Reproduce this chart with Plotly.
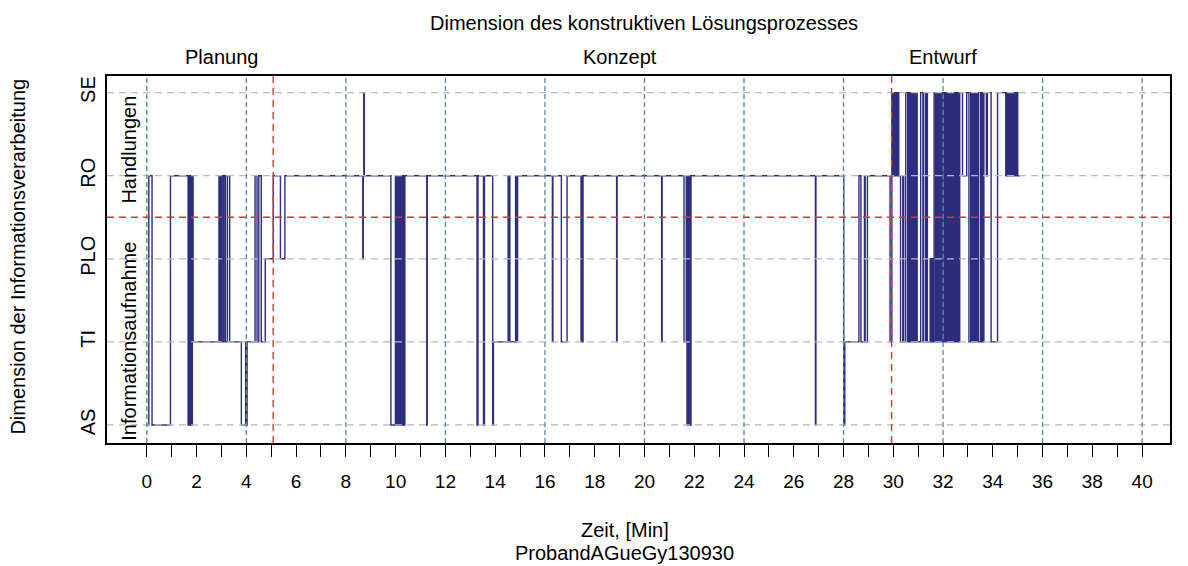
import plotly.graph_objects as go

# ---------------- data ----------------
levels = ["AS", "TI", "PLO", "RO", "SE"]
level_values = [1, 2, 3, 4, 5]

change_times = [
    0.00, 0.08, 0.21, 0.95, 1.66, 1.70, 1.73, 1.77, 1.80, 1.83, 1.86,
    2.90, 2.95, 3.00, 3.06, 3.10, 3.16, 3.24, 3.33, 3.80, 3.97, 4.00, 4.03,
    4.35, 4.43, 4.50, 4.60, 4.76, 5.08, 5.37, 5.55,
    8.68, 8.70, 8.72, 8.74,
    9.81, 9.99, 10.02, 10.05, 10.08, 10.11, 10.14, 10.17, 10.20, 10.23, 10.26, 10.29, 10.32, 10.37,
    11.25, 11.27,
    13.27, 13.31, 13.53, 13.57, 13.90, 13.93,
    14.52, 14.55, 14.57, 14.59, 14.82, 14.86, 14.90,
    16.30, 16.32, 16.66, 16.89, 17.45, 17.48, 17.50, 17.53,
    18.88, 18.90, 20.69, 20.71,
    21.59, 21.68, 21.71, 21.74, 21.77, 21.80, 21.83, 21.87,
    26.87, 26.89,
    28.01, 28.05, 28.62, 28.70, 28.84, 28.87, 28.96,
    29.87, 29.94, 29.97, 30.00, 30.03, 30.06, 30.09, 30.12, 30.15, 30.18, 30.22,
    30.29, 30.38, 30.42, 30.50, 30.58, 30.62, 30.65, 30.68, 30.71, 30.74, 30.77,
    30.80, 30.83, 30.86, 30.89, 30.92, 30.96,
    31.10, 31.19, 31.22, 31.30, 31.33, 31.37, 31.48, 31.52, 31.56, 31.60,
    31.64, 31.70, 31.75, 31.80, 31.84, 31.88, 31.92, 31.97,
    32.03, 32.08, 32.11, 32.14, 32.18, 32.21, 32.25, 32.28, 32.32, 32.35, 32.39,
    32.42, 32.46, 32.49, 32.53, 32.56, 32.60, 32.63, 32.67, 32.78, 32.95,
    33.04, 33.11, 33.14, 33.18, 33.21, 33.25, 33.28, 33.32, 33.35, 33.39, 33.42,
    33.50, 33.53, 33.57, 33.60, 33.64, 33.74, 33.78, 33.93, 34.19,
    34.52, 34.55, 34.59, 34.62, 34.66, 34.69, 34.73, 34.76, 34.80, 34.83, 34.87,
    34.90, 34.94, 34.97, 35.00, 35.10,
]

change_states = [
    "AS", "RO", "AS", "RO", "AS", "RO", "AS", "RO", "AS", "RO", "TI",
    "RO", "TI", "RO", "TI", "RO", "TI", "RO", "TI", "AS", "TI", "AS", "TI",
    "RO", "TI", "RO", "TI", "PLO", "RO", "PLO", "RO",
    "PLO", "RO", "SE", "RO",
    "AS", "RO", "AS", "RO", "AS", "RO", "AS", "RO", "AS", "RO", "AS", "RO", "AS", "RO",
    "AS", "RO",
    "AS", "RO", "AS", "RO", "AS", "TI",
    "RO", "TI", "RO", "TI", "RO", "TI", "RO",
    "TI", "RO", "TI", "RO", "TI", "RO", "TI", "RO",
    "TI", "RO", "TI", "RO",
    "TI", "RO", "AS", "RO", "AS", "RO", "AS", "RO",
    "AS", "RO",
    "AS", "TI", "RO", "TI", "RO", "TI", "RO",
    "TI", "SE", "RO", "SE", "RO", "SE", "RO", "SE", "RO", "SE", "RO",
    "TI", "RO", "TI", "SE", "TI", "SE", "TI", "SE", "TI", "SE", "TI",
    "SE", "TI", "SE", "TI", "SE", "TI",
    "SE", "TI", "SE", "TI", "SE", "TI", "PLO", "TI", "PLO", "TI",
    "SE", "TI", "SE", "TI", "SE", "TI", "SE", "TI",
    "SE", "TI", "SE", "TI", "SE", "TI", "SE", "TI", "SE", "TI", "SE",
    "TI", "SE", "TI", "SE", "TI", "SE", "TI", "SE", "RO", "SE",
    "TI", "SE", "TI", "SE", "TI", "SE", "TI", "SE", "TI", "SE", "TI",
    "SE", "TI", "SE", "TI", "SE", "RO", "SE", "TI", "SE",
    "RO", "SE", "RO", "SE", "RO", "SE", "RO", "SE", "RO", "SE", "RO",
    "SE", "RO", "SE", "RO", "RO",
]

x_tick_values = list(range(0, 41))
blue_grid_x = [0, 4, 8, 12, 16, 20, 24, 28, 32, 36, 40]
phase_bounds = [5.08, 29.93]
level_split = 3.5
phase_names = ["Planung", "Konzept", "Entwurf"]
phase_label_x = [3.0, 19.0, 32.0]
group_names = ["Handlungen", "Informationsaufnahme"]
group_label_y = [4.31, 2.01]

title_text = "Dimension des konstruktiven Lösungsprozesses"
y_title_text = "Dimension der Informationsverarbeitung"
x_title_text = "Zeit, [Min]"
subject_text = "ProbandAGueGy130930"

# ---------------- figure ----------------
FONT = "Liberation Sans, Arial, sans-serif"
state_map = dict(zip(levels, level_values))
y_vals = [state_map[s] for s in change_states]

X_RANGE = [-1.6, 41.12]
Y_RANGE = [0.783, 5.2]

fig = go.Figure()
fig.add_trace(go.Scatter(
    x=change_times, y=y_vals, mode="lines",
    line=dict(shape="hv", color="#2d2d7f", width=1.4),
    hoverinfo="skip", showlegend=False,
))

shapes = []
for yv in level_values:
    shapes.append(dict(type="line", xref="paper", x0=0, x1=1, yref="y", y0=yv, y1=yv,
                       line=dict(color="#b9b9b9", width=1.3, dash="7px,5px"), layer="above"))
for xv in blue_grid_x:
    shapes.append(dict(type="line", xref="x", x0=xv, x1=xv, yref="paper", y0=0, y1=1,
                       line=dict(color="#5b84a8", width=1.3, dash="5px,3px"), layer="above"))
for xv in phase_bounds:
    shapes.append(dict(type="line", xref="x", x0=xv, x1=xv, yref="paper", y0=0, y1=1,
                       line=dict(color="#ff2a2a", width=1.4, dash="7px,5px"), layer="above"))
shapes.append(dict(type="line", xref="paper", x0=0, x1=1, yref="y", y0=level_split, y1=level_split,
                   line=dict(color="#ff2a2a", width=1.4, dash="7px,5px"), layer="above"))

annotations = []
annotations.append(dict(text=title_text, x=20, xref="x", y=1.145, yref="paper",
                        showarrow=False, font=dict(size=20, family=FONT, color="black"),
                        xanchor="center", yanchor="middle"))
for name, xv in zip(phase_names, phase_label_x):
    annotations.append(dict(text=name, x=xv, xref="x", y=1.052, yref="paper",
                            showarrow=False, font=dict(size=20, family=FONT, color="black"),
                            xanchor="center", yanchor="middle"))
for name, yv in zip(group_names, group_label_y):
    annotations.append(dict(text=name, x=-0.73, xref="x", y=yv, yref="y", textangle=-90,
                            showarrow=False, font=dict(size=20, family=FONT, color="black"),
                            xanchor="center", yanchor="middle"))
annotations.append(dict(text=y_title_text, x=-0.0837, xref="paper", y=0.508, yref="paper",
                        textangle=-90, showarrow=False,
                        font=dict(size=20, family=FONT, color="black"),
                        xanchor="center", yanchor="middle"))
annotations.append(dict(text=x_title_text, x=19.2, xref="x", y=-0.238, yref="paper",
                        showarrow=False, font=dict(size=20, family=FONT, color="black"),
                        xanchor="center", yanchor="middle"))
annotations.append(dict(text=subject_text, x=19.2, xref="x", y=-0.301, yref="paper",
                        showarrow=False, font=dict(size=20, family=FONT, color="black"),
                        xanchor="center", yanchor="middle"))

fig.update_layout(
    width=1188, height=566,
    margin=dict(l=107, r=18, t=76, b=123, pad=0),
    paper_bgcolor="white", plot_bgcolor="white",
    shapes=shapes, annotations=annotations,
    xaxis=dict(
        range=X_RANGE, tickmode="array", tickvals=x_tick_values,
        ticktext=[str(v) if v % 2 == 0 else "" for v in x_tick_values],
        ticks="outside", ticklen=12, tickwidth=1.3, tickcolor="black",
        showgrid=False, zeroline=False, showline=True, mirror=True,
        linecolor="black", linewidth=1.5,
        tickfont=dict(size=19, family=FONT, color="black"),
        ticklabelstandoff=8,
    ),
    yaxis=dict(
        range=Y_RANGE, tickmode="array", tickvals=level_values, ticktext=levels,
        tickangle=-90, ticks="", showgrid=False, zeroline=False,
        showline=True, mirror=True, linecolor="black", linewidth=1.5,
        tickfont=dict(size=20, family=FONT, color="black"),
        ticklabelstandoff=2,
    ),
)

fig.write_html("out.html")
